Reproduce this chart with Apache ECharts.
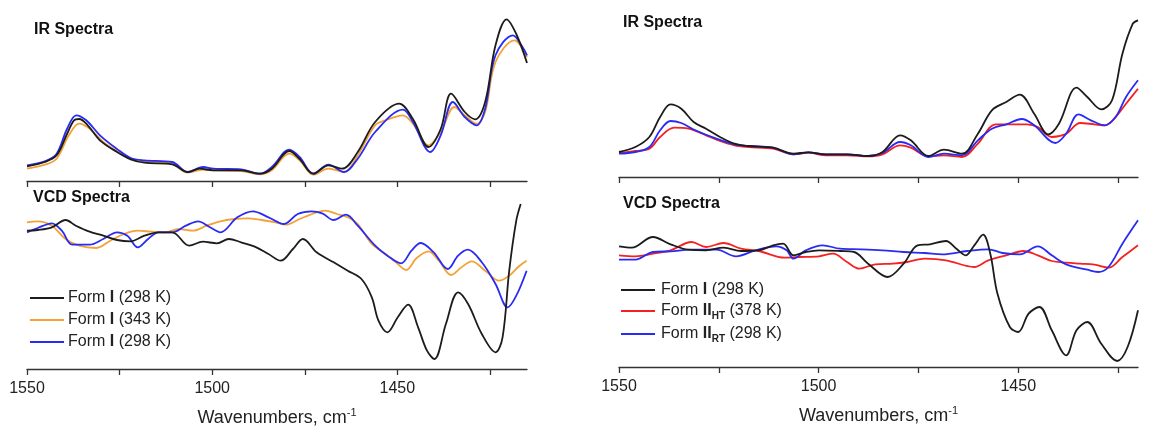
<!DOCTYPE html>
<html>
<head>
<meta charset="utf-8">
<script src="https://cdn.jsdelivr.net/npm/echarts@6/dist/echarts.min.js"></script>
<style>html,body{margin:0;padding:0;background:#fff}#c{width:1155px;height:432px}</style>
</head>
<body>
<div id="c"></div>
<script>
// ---- Data (wavenumber cm-1, arbitrary units) ----
const tickValues = [1550, 1525, 1500, 1475, 1450, 1425];
const labelValues = [1550, 1500, 1450];

const legendLeft = ['Form I (298 K)', 'Form I (343 K)', 'Form I (298 K)'];
const legendRight = ['Form I (298 K)', 'Form II_HT (378 K)', 'Form II_RT (298 K)'];

const irLeftBlack = [[1550,14.7],[1545.2,19],[1542,25.7],[1539.2,47],[1537.3,60.7],[1535.9,62],[1533.6,55.7],[1530.3,40.7],[1525.7,29],[1522,21.7],[1518.3,18.3],[1510.8,16.7],[1506.6,9],[1503.4,12.3],[1499.7,10.7],[1492.2,10.7],[1487.1,7.3],[1483.9,12.3],[1479.2,30],[1476.4,22],[1472.7,7.3],[1468.6,15.7],[1464.9,12.3],[1460.7,29],[1456,59],[1449.5,77.3],[1445.8,62],[1441.6,34],[1438.3,52],[1435.5,87.3],[1431.8,69],[1429,61.7],[1426.3,79],[1423.5,135.7],[1420.5,161.7],[1417.9,147],[1415,118]];
const irLeftOrange = [[1550,12.3],[1545.2,16.3],[1542,22.3],[1538.7,45.7],[1535.9,57.3],[1533.1,52.3],[1529.4,39],[1525.7,29.7],[1522,22.3],[1518.3,19.7],[1510.8,17.3],[1506.6,8.3],[1502.5,11.3],[1499.7,10.7],[1492.2,10],[1487.1,6.7],[1483.9,10.7],[1479.2,27.3],[1476.4,20.7],[1472.7,6.3],[1468.6,12.3],[1464.4,9],[1460.7,25.7],[1456,55.7],[1453.2,60.7],[1448.5,65.7],[1445.8,57.3],[1441.6,35.7],[1438.3,49],[1434.6,74],[1431.8,65.7],[1428.6,57.3],[1426.3,69],[1423.5,119],[1418.4,140.7],[1415,124]];
const irLeftBlue = [[1550,15.7],[1545.2,19.7],[1542,27.3],[1539.2,52],[1536.7,65.7],[1534,60.7],[1530.3,45.7],[1525.7,32],[1522,23],[1518.3,20.7],[1510.8,19],[1506.6,9],[1502.5,14],[1499.7,12.3],[1492.2,11.7],[1487.1,7.3],[1483.9,14],[1479.2,31.3],[1476.4,24],[1472.7,7.3],[1468.6,16.3],[1464.4,9],[1460.7,22.3],[1456,49],[1448.5,71.3],[1445.8,59],[1441.1,29],[1438.3,45.7],[1435,79],[1431.8,64],[1428.6,55.7],[1426.3,72.3],[1423.5,125.7],[1418.8,145.7],[1416.5,135.7],[1415,125.7]];

const vcdLeftBlack = [[1550,138.3],[1547.1,139],[1543.3,141.7],[1539.6,149],[1536.8,143.3],[1533.1,137.3],[1529.4,133.3],[1525.7,129],[1522,127.7],[1518.3,133.3],[1514.5,136.7],[1510.8,136.7],[1506.2,123.3],[1502.5,127.3],[1498.7,125.7],[1495.5,130],[1492.2,126.7],[1488.5,122.3],[1484.8,115],[1481.5,108.3],[1478.2,120],[1475.5,130],[1471.8,116.7],[1467.2,106.7],[1463.4,98.3],[1459.7,90],[1456.9,71.7],[1455.1,48.3],[1452.7,36.7],[1449.9,51.7],[1447.1,64.3],[1444.4,41.7],[1442,18.3],[1440,10],[1436.9,45],[1433.6,76.7],[1430.9,65],[1427.2,35],[1423.5,16.7],[1421.6,31.7],[1419.8,98.3],[1417.9,148.3],[1416.7,165]];
const vcdLeftOrange = [[1550,146.7],[1547.1,147.7],[1543.3,143.3],[1539.6,130],[1535.9,123.3],[1531.3,121],[1527.5,128.3],[1523.8,135],[1520.1,138.3],[1516.4,137.3],[1512.7,136.7],[1509,140],[1505.2,138.3],[1501.5,143.3],[1497.8,147.7],[1494.1,150],[1490.4,150.7],[1486.7,149],[1482.9,146.7],[1480.1,144.3],[1476.4,150],[1471.8,156.7],[1469.5,158.3],[1466.3,155],[1463.4,151.7],[1460.7,145],[1456.9,125],[1453.2,115],[1450.4,106.7],[1447.6,99],[1444.8,111],[1441.6,117.7],[1438.8,108.3],[1435.5,94],[1432.7,101.7],[1429.9,107.7],[1426.3,98.3],[1422.5,88.3],[1419.8,93.3],[1417,103.3],[1415.1,108.3]];
const vcdLeftBlue = [[1550,136.7],[1547.1,141],[1543.3,145.7],[1540.6,138.3],[1537.8,124.3],[1533.1,124.3],[1529.4,130],[1525.7,136.7],[1522.9,133.3],[1520.1,121.7],[1517.3,130],[1514.5,136.7],[1510.8,136.7],[1507.1,143.3],[1503.8,147.7],[1500.6,141.7],[1497.8,136.7],[1493.2,151.7],[1489,157.7],[1484.8,151.7],[1480.6,145],[1476.9,155],[1473.2,157.7],[1470.3,155.7],[1467.2,149],[1463.9,154.3],[1460.7,143.3],[1456,123.3],[1452.7,113.3],[1449,105.7],[1446.2,118.3],[1443.7,126],[1440.2,116.7],[1436.4,100],[1433.6,113.3],[1431,119.3],[1427.2,106.7],[1423.5,85],[1420.2,61.7],[1417.9,73.3],[1415.1,98.3]];

const irRightBlack = [[1550,25],[1545.9,30],[1542.4,40],[1539.7,60],[1537.1,72.7],[1534.4,68.3],[1531.3,55],[1528.2,48.3],[1524.7,40],[1521.1,33.3],[1517.6,31],[1511.4,29.3],[1506.3,23.3],[1502.6,24.7],[1498.2,22.7],[1492.9,22.7],[1487.6,21],[1484,25],[1479.6,41.7],[1476.9,36.7],[1472.5,21],[1468.6,27.3],[1464.1,23.3],[1460.1,43.3],[1456.6,66.7],[1453,75],[1449.6,82.3],[1446,63.3],[1442.5,42.7],[1439.8,53.3],[1435.4,89.3],[1432.7,80],[1429.2,67.7],[1426.5,76.7],[1423.9,123.3],[1421.3,153.3],[1420,156.7]];
const irRightRed = [[1550,24],[1545.9,26],[1542.4,28.3],[1539.7,40],[1536.2,49.3],[1532.6,48.3],[1528.2,41.7],[1524.7,36],[1521.1,31.7],[1517.6,30],[1511.4,28.3],[1506.3,22.7],[1502.6,24.3],[1498.2,21.7],[1492.9,21.7],[1487.6,20.7],[1484,22.7],[1479.6,31.7],[1476.9,29.3],[1472.5,20.7],[1468.6,21.7],[1464.1,20],[1460.1,33.3],[1455.7,52.7],[1452.1,52.7],[1447.8,52.7],[1445.1,50],[1441.6,40],[1438,43.3],[1434.5,54],[1430.9,52.7],[1428.3,51.7],[1425.6,60],[1423,73.3],[1420,88.3]];
const irRightBlue = [[1550,23.3],[1545.9,25],[1542.4,30],[1539.7,46.7],[1537.1,56],[1534.4,54],[1530.9,46.7],[1525.6,38.3],[1521.1,32.7],[1517.6,31],[1511.4,29.3],[1506.3,22.7],[1502.6,24.7],[1498.2,22.7],[1492.9,22.7],[1487.6,21],[1484,24],[1479.6,35],[1476.9,31.7],[1472.5,20],[1468.6,23.3],[1464.1,21.7],[1460.1,36.7],[1456.6,48.3],[1453,52.7],[1449.1,58],[1446,51.7],[1440.7,34],[1438,43.3],[1434.9,62.7],[1431.8,56.7],[1428.3,51.7],[1425.6,60],[1423,80],[1420,96.7]];

const vcdRightBlack = [[1550,120.7],[1546.8,119.3],[1541.5,130],[1537.1,122.7],[1532.6,117.3],[1528.2,116.7],[1523.8,119.3],[1519.4,116],[1515,116.7],[1511.4,121.7],[1508.9,123.3],[1506.3,111.7],[1503.2,115],[1499.9,116.7],[1494.6,116],[1491.1,115],[1487.6,103.3],[1482.7,90],[1478.7,103.3],[1475.2,121.7],[1472.1,122.7],[1468.1,126],[1465.5,118.3],[1463.2,111.7],[1461,121.7],[1458.8,132.3],[1457,113.3],[1455.2,73.3],[1452.1,40],[1450,35],[1447.4,53.3],[1444.7,60],[1441.6,36.7],[1438,11.7],[1435.4,36.7],[1432.7,45],[1429.2,23.3],[1425.2,6],[1422.6,20],[1420,56.7]];
const vcdRightRed = [[1550,111.7],[1545.9,110.7],[1541.5,113.3],[1537.1,116.7],[1531.8,125],[1528.2,120],[1523.8,124],[1519.4,118.3],[1515,116],[1508.5,109.3],[1505,110],[1499.9,110.7],[1496.4,113.3],[1492.9,105],[1489.8,98.3],[1485.8,102.7],[1481.4,103.3],[1477.8,105],[1473.4,108.3],[1468.1,106.7],[1461,100],[1457.5,106.7],[1453,111.7],[1448.7,116],[1445.1,111.7],[1441.6,106],[1438,104.3],[1434.5,103.3],[1430.9,102.3],[1427.4,99.3],[1423.9,110],[1420,121.7]];
const vcdRightBlue = [[1550,107.3],[1545.9,107.3],[1541.5,115],[1537.1,115.7],[1531.8,117.3],[1525.6,117.3],[1520.7,110.7],[1515.8,116.7],[1510.6,120.7],[1508,116.7],[1506.3,108.3],[1503.2,116.7],[1499,121.7],[1494.6,118.3],[1489.3,117.7],[1484,116.7],[1478.7,115],[1473.4,114],[1469,112.7],[1462.8,116],[1457.5,117.7],[1453.9,114],[1449.6,112.7],[1445.1,120.7],[1441.6,111.7],[1438,102.7],[1432.7,97.3],[1430,95],[1427.4,100],[1423.9,123.3],[1420,146.7]];

// ---- Styles ----
const FONT = 'Liberation Sans, Arial, sans-serif';
const C_BLACK = '#1c1c1c', C_ORANGE = '#f2a236', C_BLUE = '#2a2af5', C_RED = '#f52020';

const chart = echarts.init(document.getElementById('c'), null, {renderer: 'canvas'});

function xAx(gi, min, withLabels) {
  return {
    type: 'value', gridIndex: gi, inverse: true, min: min, max: 1550,
    axisLine: {onZero: false, lineStyle: {color: '#333', width: 1.3}},
    axisTick: {show: true, customValues: tickValues, length: 6, lineStyle: {color: '#333', width: 1.3}},
    axisLabel: {show: withLabels, customValues: labelValues, fontSize: 16, color: '#222', fontFamily: FONT, margin: 12,
                formatter: function (v) { return String(v); }},
    splitLine: {show: false},
    name: withLabels ? '{t|Wavenumbers, cm}{s|-1}' : '',
    nameLocation: 'middle', nameGap: 38,
    nameTextStyle: {
      color: '#222', fontFamily: FONT,
      rich: {t: {fontSize: 18, fontFamily: FONT, color: '#222', lineHeight: 22},
             s: {fontSize: 11, fontFamily: FONT, color: '#222', lineHeight: 12, verticalAlign: 'top'}}
    }
  };
}
function yAx(gi) {
  return {type: 'value', gridIndex: gi, min: 0, max: 170, show: false, splitLine: {show: false}};
}
function ser(name, data, color, xi) {
  return {type: 'line', name: name, data: data, xAxisIndex: xi, yAxisIndex: xi,
    symbol: 'none', smooth: 0.35, lineStyle: {color: color, width: 1.8}, itemStyle: {color: color},
    silent: true, animation: false, z: 2};
}

const nameMap = {
  L1: '{n|Form }{b|I}{n| (298 K)}',
  L2: '{n|Form }{b|I}{n| (343 K)}',
  L3: '{n|Form }{b|I}{n| (298 K)}',
  R1: '{n|Form }{b|I}{n| (298 K)}',
  R2: '{n|Form }{b|II}{sub|HT}{n| (378 K)}',
  R3: '{n|Form }{b|II}{sub|RT}{n| (298 K)}'
};
const legRich = {
  n: {fontSize: 16, fontFamily: FONT, color: '#222', lineHeight: 20},
  b: {fontSize: 16, fontFamily: FONT, color: '#222', fontWeight: 'bold', lineHeight: 20},
  sub: {fontSize: 10, fontFamily: FONT, color: '#222', fontWeight: 'bold', lineHeight: 11, verticalAlign: 'bottom'}
};
function legend(names, left, top, gap, pad) {
  return {
    data: names, orient: 'vertical', left: left, top: top,
    icon: 'rect', itemWidth: 34, itemHeight: 2, itemGap: gap,
    selectedMode: false,
    formatter: function (n) { return nameMap[n]; },
    textStyle: {fontFamily: FONT, fontSize: 16, color: '#222', rich: legRich, padding: [0, 0, 0, pad]}
  };
}

const option = {
  animation: false,
  backgroundColor: '#fff',
  grid: [
    {left: 27, right: 628, top: 11, height: 170},
    {left: 27, right: 628, top: 199, height: 170},
    {left: 619, right: 17, top: 7, height: 170},
    {left: 619, right: 17, top: 197, height: 170}
  ],
  xAxis: [xAx(0, 1415, false), xAx(1, 1415, true), xAx(2, 1420, false), xAx(3, 1420, true)],
  yAxis: [yAx(0), yAx(1), yAx(2), yAx(3)],
  legend: [legend(['L1', 'L2', 'L3'], 25, 285, 6, -1), legend(['R1', 'R2', 'R3'], 616, 277, 5, 1)],
  graphic: [
    {type: 'text', left: 34, top: 22, style: {text: 'IR Spectra', font: 'bold 16px ' + FONT, fill: '#111'}},
    {type: 'text', left: 33, top: 190, style: {text: 'VCD Spectra', font: 'bold 16px ' + FONT, fill: '#111'}},
    {type: 'text', left: 623, top: 15, style: {text: 'IR Spectra', font: 'bold 16px ' + FONT, fill: '#111'}},
    {type: 'text', left: 623, top: 196, style: {text: 'VCD Spectra', font: 'bold 16px ' + FONT, fill: '#111'}}
  ],
  series: [
    ser('L2', irLeftOrange, C_ORANGE, 0),
    ser('L3', irLeftBlue, C_BLUE, 0),
    ser('L1', irLeftBlack, C_BLACK, 0),
    ser('L2', vcdLeftOrange, C_ORANGE, 1),
    ser('L3', vcdLeftBlue, C_BLUE, 1),
    ser('L1', vcdLeftBlack, C_BLACK, 1),
    ser('R2', irRightRed, C_RED, 2),
    ser('R3', irRightBlue, C_BLUE, 2),
    ser('R1', irRightBlack, C_BLACK, 2),
    ser('R2', vcdRightRed, C_RED, 3),
    ser('R3', vcdRightBlue, C_BLUE, 3),
    ser('R1', vcdRightBlack, C_BLACK, 3)
  ]
};
chart.setOption(option);
</script>
</body>
</html>
